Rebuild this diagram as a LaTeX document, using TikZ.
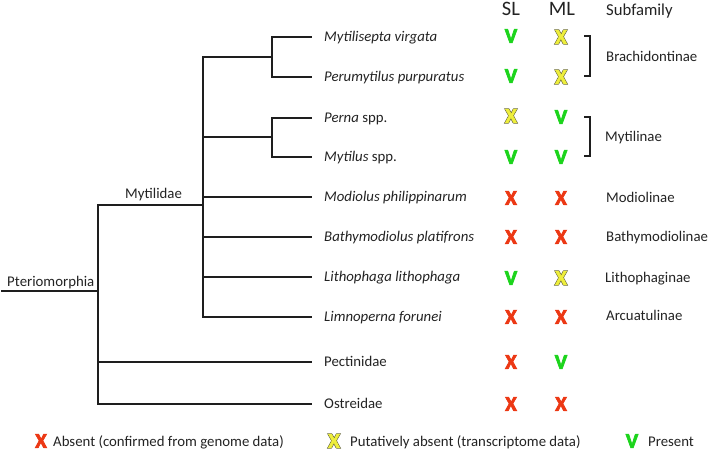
\documentclass[tikz,border=0pt]{standalone}
\usepackage{fontspec}
\setmainfont{Carlito}
\newfontfamily\heavyfont{Carlito Bold}[FakeBold=3.5]
\newfontfamily\outlinefont{Carlito Bold}[FakeBold=8]
\newfontfamily\innerfont{Carlito Bold}[FakeBold=2.5]
\definecolor{lnc}{RGB}{30,30,30}
\definecolor{absred}{RGB}{236,56,20}
\definecolor{presgreen}{RGB}{28,212,28}
\definecolor{putyel}{RGB}{238,238,60}
\definecolor{putedge}{RGB}{95,95,55}
\definecolor{txt}{RGB}{35,35,35}
\tikzset{
  branch/.style={draw=lnc, line width=1.4pt, line cap=rect},
  leaf/.style={anchor=west, inner sep=0pt, text height=9pt, text depth=0pt, text=txt, font=\fontsize{14.8}{16}\selectfont\itshape},
  leafup/.style={leaf, font=\fontsize{14.8}{16}\selectfont},
  sub/.style={anchor=west, inner sep=0pt, text height=9pt, text depth=0pt, text=txt, font=\fontsize{14.8}{16}\selectfont},
  hdr/.style={anchor=base, inner sep=0pt, text=txt, font=\fontsize{20.5}{22}\selectfont},
  symb/.style={anchor=center, inner sep=0pt, text height=13.5pt, text depth=0pt, font=\fontsize{21}{21}\selectfont\heavyfont},
  absx/.style={symb, text=absred},
  presv/.style={symb, text=presgreen},
  putxb/.style={symb, text=putedge, font=\fontsize{21}{21}\selectfont\outlinefont},
  putxf/.style={symb, text=putyel, font=\fontsize{21}{21}\selectfont\innerfont},
  bracket/.style={draw=lnc, line width=1.4pt},
  lgtext/.style={anchor=base west, inner sep=0pt, text=txt, font=\fontsize{14.8}{16}\selectfont},
}
\begin{document}
\begin{tikzpicture}[x=1pt,y=-1pt]
\useasboundingbox (0,0) rectangle (709,451);

% leaf labels
\node[leaf] (l1) at (324,37) {Mytilisepta virgata};
\node[leaf] (l2) at (324,77) {Perumytilus purpuratus};
\node[leaf] (l3) at (324,118) {Perna {\upshape spp.}};
\node[leaf] (l4) at (324,157) {Mytilus {\upshape spp.}};
\node[leaf] (l5) at (324,197) {Modiolus philippinarum};
\node[leaf] (l6) at (324,237) {Bathymodiolus platifrons};
\node[leaf] (l7) at (324,277) {Lithophaga lithophaga};
\node[leaf] (l8) at (324,317) {Limnoperna forunei};
\node[leafup] (l9) at (324,362) {Pectinidae};
\node[leafup] (l10) at (324,404) {Ostreidae};

% line ends
\foreach \i in {1,...,10} { \coordinate (e\i) at ([xshift=-13pt]l\i.west); }

% internal nodes
\coordinate (rootL) at (2,291);
\coordinate (nP) at (98,291);
\coordinate (nM) at (203,205);
\coordinate (nB) at (272,57);
\coordinate (nT) at (272,137);

\draw[branch] (rootL) -- (nP);
\draw[branch] (nM) -| (nP) |- (e10);
\draw[branch] (nP |- e9) -- (e9);
\draw[branch] (nB) -| (nM |- nB) |- (e8);
\draw[branch] (nM |- nT) -- (nT);
\draw[branch] (nM |- e5) -- (e5);
\draw[branch] (nM |- e6) -- (e6);
\draw[branch] (nM |- e7) -- (e7);
\draw[branch] (e1) -| (nB) |- (e2);
\draw[branch] (e3) -| (nT) |- (e4);

% clade labels
\node[lgtext] (plab) at (7,286) {Pteriomorphia};
\node[lgtext] (mlab) at (125,198) {Mytilidae};

% headers
\node[hdr] (hSL) at (511,15) {SL};
\node[hdr] (hML) at (562,15) {ML};
\node[anchor=base west, inner sep=0pt, text=txt, font=\fontsize{16.7}{18}\selectfont] (hSub) at (606,15) {Subfamily};

% symbols
\node[presv] (s1) at (511,36) {V};
\node[putxb] (m1b) at (561,37) {X};
\node[putxf] (m1) at (561,37) {X};
\node[presv] (s2) at (511,76) {V};
\node[putxb] (m2b) at (561,77) {X};
\node[putxf] (m2) at (561,77) {X};
\node[putxb] (s3b) at (511,116) {X};
\node[putxf] (s3) at (511,116) {X};
\node[presv] (m3) at (561,117) {V};
\node[presv] (s4) at (511,157) {V};
\node[presv] (m4) at (561,157) {V};
\node[absx] (s5) at (511,198) {X};
\node[absx] (m5) at (561,198) {X};
\node[absx] (s6) at (511,237) {X};
\node[absx] (m6) at (561,237) {X};
\node[presv] (s7) at (511,278) {V};
\node[putxb] (m7b) at (561,278) {X};
\node[putxf] (m7) at (561,278) {X};
\node[absx] (s8) at (511,317) {X};
\node[absx] (m8) at (561,317) {X};
\node[absx] (s9) at (511,362) {X};
\node[presv] (m9) at (561,362) {V};
\node[absx] (s10) at (511,404) {X};
\node[absx] (m10) at (561,404) {X};

% subfamily labels
\node[sub] (f12) at (606,57) {Brachidontinae};
\node[sub] (f34) at (605,137) {Mytilinae};
\node[sub] (f5) at (606,198) {Modiolinae};
\node[sub] (f6) at (606,237) {Bathymodiolinae};
\node[sub] (f7) at (605,278) {Lithophaginae};
\node[sub] (f8) at (606,316) {Arcuatulinae};

% brackets
\coordinate (b1t) at (584,36);
\coordinate (b1b) at (584,76);
\coordinate (b2t) at (584,117);
\coordinate (b2b) at (584,156);
\draw[bracket] (b1t) -- ++(6,0) |- (b1b);
\draw[bracket] (b2t) -- ++(6,0) |- (b2b);

% legend
\node[absx] (lgx) at (41,441) {X};
\node[lgtext] (lgxt) at (53,446) {Absent (confirmed from genome data)};
\node[putxb] (lgyb) at (334,441) {X};
\node[putxf] (lgy) at (334,441) {X};
\node[lgtext] (lgyt) at (350,446) {Putatively absent (transcriptome data)};
\node[presv] (lgv) at (632,441) {V};
\node[lgtext] (lgvt) at (648,446) {Present};
\end{tikzpicture}
\end{document}
